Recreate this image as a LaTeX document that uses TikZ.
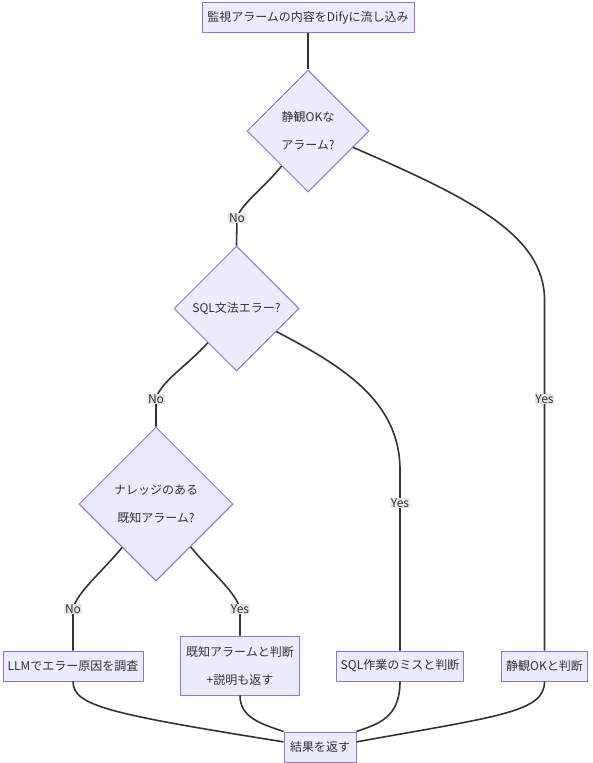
\documentclass[tikz,border=0pt]{standalone}
\usepackage{fontspec}
\setmainfont{Noto Sans CJK JP}
\definecolor{mmfill}{HTML}{ECECFF}
\definecolor{mmborder}{HTML}{9370DB}
\definecolor{mmline}{HTML}{333333}
\definecolor{mmlabel}{HTML}{E8E8E8}
\usetikzlibrary{shapes.geometric}

\begin{document}
\begin{tikzpicture}[
  x=0.75pt,y=-0.75pt,
  procbox/.style={draw=mmborder,fill=mmfill,line width=0.75pt,minimum height=22.5pt,
    inner sep=0pt,align=center,font=\fontsize{9}{21}\selectfont,text=mmline},
  decision/.style={diamond,aspect=1,draw=mmborder,fill=mmfill,line width=0.75pt,
    inner sep=0pt,align=center,font=\fontsize{9}{21}\selectfont,text=mmline},
  flow/.style={draw=mmline,line width=1.2pt},
  elabel/.style={fill=mmlabel,inner sep=0.6pt,font=\fontsize{9}{11}\selectfont,text=mmline}
]
  \useasboundingbox (0,0) rectangle (592,763);

  \node[procbox,minimum width=159pt] (inflow) at (308,17.5) {監視アラームの内容をDifyに流し込み};
  \node[decision,minimum width=91.5pt,minimum height=91.5pt] (quiet) at (308,131) {静観OKな\\アラーム?};
  \node[decision,minimum width=93.75pt,minimum height=93.75pt] (sqlerr) at (236.5,308.5) {SQL文法エラー?};
  \node[decision,minimum width=115.5pt,minimum height=115.5pt] (known) at (156,504) {ナレッジのある\\既知アラーム?};

  \node[procbox,minimum width=105pt] (llmbox) at (73,666) {LLMでエラー原因を調査};
  \node[procbox,minimum width=89.25pt,minimum height=44.25pt] (knownbox) at (240,665.5) {既知アラームと判断\\+説明も返す};
  \node[procbox,minimum width=95.25pt] (sqlbox) at (400,666) {SQL作業のミスと判断};
  \node[procbox,minimum width=65pt] (okbox) at (544.5,666) {静観OKと判断};
  \node[procbox,minimum width=54pt] (result) at (320,747) {結果を返す};

  % branches
  \draw[flow] (inflow.south) -- (quiet.north);
  \draw[flow] (quiet.233) .. controls (262,190) and (241,204) .. (237,218) node[elabel] (no1) {No} -- (sqlerr.north);
  \draw[flow] (quiet.340) .. controls (470,198) and (544.5,235) .. (544.5,300) -- (544.5,399) node[elabel] (yes1) {Yes} -- (okbox.north);
  \draw[flow] (sqlerr.230) .. controls (188,365) and (160,382) .. (156,399) node[elabel] (no2) {No} -- (known.north);
  \draw[flow] (sqlerr.330) .. controls (340,365) and (400,400) .. (400,470) -- (400,503) node[elabel] (yes2) {Yes} -- (sqlbox.north);
  \draw[flow] (known.232) .. controls (102,572) and (77,592) .. (73,609) node[elabel] (no3) {No} -- (llmbox.north);
  \draw[flow] (known.309) .. controls (211,572) and (236,592) .. (240,609) node[elabel] (yes3) {Yes} -- (knownbox.north);

  % merge
  \draw[flow] (llmbox.south) .. controls (73,706) and (110,714) .. (result.172);
  \draw[flow] (knownbox.south) .. controls (240,718) and (262,724) .. (result.north west);
  \draw[flow] (sqlbox.south) .. controls (400,718) and (378,724) .. (result.north east);
  \draw[flow] (okbox.south) .. controls (544.5,712) and (500,716) .. (result.8);
\end{tikzpicture}
\end{document}
